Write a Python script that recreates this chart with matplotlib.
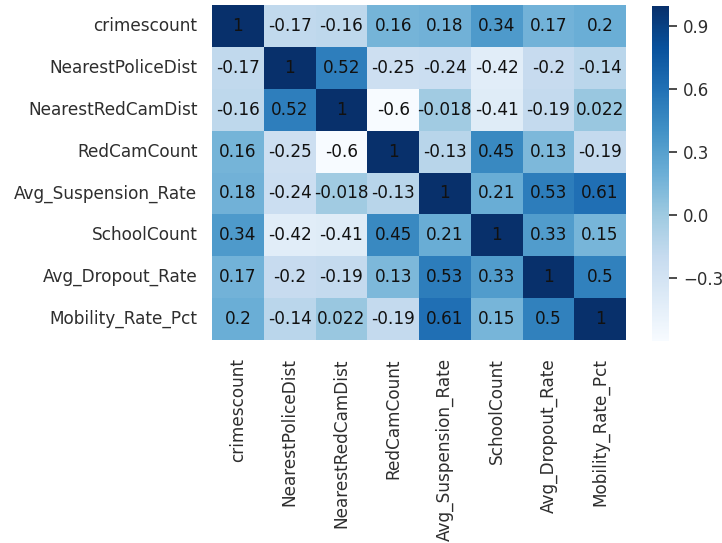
import numpy as np
import seaborn as sns
from matplotlib import pyplot as plt

labels = ["crimescount", "NearestPoliceDist", "NearestRedCamDist", "RedCamCount",
          "Avg_Suspension_Rate", "SchoolCount", "Avg_Dropout_Rate", "Mobility_Rate_Pct"]

row_crimes = [1, -0.17, -0.16, 0.16, 0.18, 0.34, 0.17, 0.2]
row_police = [-0.17, 1, 0.52, -0.25, -0.24, -0.42, -0.2, -0.14]
row_redcamdist = [-0.16, 0.52, 1, -0.6, -0.018, -0.41, -0.19, 0.022]
row_redcamcount = [0.16, -0.25, -0.6, 1, -0.13, 0.45, 0.13, -0.19]
row_suspension = [0.18, -0.24, -0.018, -0.13, 1, 0.21, 0.53, 0.61]
row_school = [0.34, -0.42, -0.41, 0.45, 0.21, 1, 0.33, 0.15]
row_dropout = [0.17, -0.2, -0.19, 0.13, 0.53, 0.33, 1, 0.5]
row_mobility = [0.2, -0.14, 0.022, -0.19, 0.61, 0.15, 0.5, 1]

cbar_ticks = [-0.3, 0.0, 0.3, 0.6, 0.9]

corr = np.array([row_crimes, row_police, row_redcamdist, row_redcamcount,
                 row_suspension, row_school, row_dropout, row_mobility])

text_grey = "#2e2e2e"

fig = plt.figure(figsize=(7.22, 5.43), dpi=100)
ax = fig.add_axes([212 / 722, 1 - 340 / 543, 414 / 722, 335 / 543])
cax = fig.add_axes([652 / 722, 1 - 340.5 / 543, 17 / 722, 335 / 543])

sns.heatmap(corr, ax=ax, cbar_ax=cax, cmap="Blues", vmin=-0.6, vmax=1,
            annot=True, annot_kws={"color": "#111111", "fontsize": 12.2},
            xticklabels=labels, yticklabels=labels,
            cbar_kws={"ticks": cbar_ticks})

ax.tick_params(axis="both", length=0, labelsize=12.2, colors=text_grey)
ax.tick_params(axis="y", pad=10.5)
ax.tick_params(axis="x", pad=13)
plt.setp(ax.get_xticklabels(), rotation=90)
plt.setp(ax.get_yticklabels(), rotation=0)

cax.tick_params(length=6, width=1.2, pad=4, labelsize=12, colors=text_grey)
cax.set_yticklabels(["\u22120.3", "0.0", "0.3", "0.6", "0.9"])
for spine in cax.spines.values():
    spine.set_visible(False)

plt.savefig("out.png", dpi=100)
